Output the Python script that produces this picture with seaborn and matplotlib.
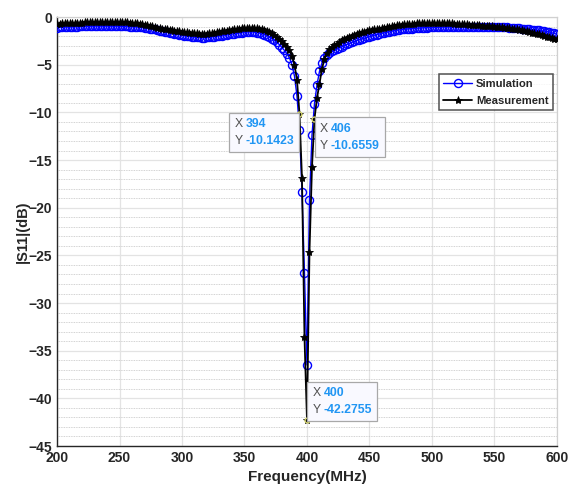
import numpy as np
import pandas as pd
import seaborn as sns
import matplotlib.pyplot as plt
from matplotlib.offsetbox import TextArea, HPacker, VPacker, AnnotationBbox
from matplotlib.ticker import MultipleLocator

# frequency axis (MHz), one sample every 2 MHz
freq = np.arange(200, 602, 2)

# simulated |S11| (dB)
sim = [
    -1.10, -1.08, -1.07, -1.05, -1.04, -1.02, -1.01, -1.00, -0.99, -0.98,
    -0.97, -0.96, -0.96, -0.95, -0.95, -0.94, -0.94, -0.94, -0.93, -0.93,
    -0.93, -0.93, -0.93, -0.94, -0.94, -0.95, -0.96, -0.97, -0.98, -0.99,
    -1.00, -1.02, -1.04, -1.06, -1.08, -1.10, -1.15, -1.20, -1.25, -1.30,
    -1.35, -1.41, -1.47, -1.53, -1.59, -1.65, -1.70, -1.75, -1.80, -1.85,
    -1.90, -1.94, -1.98, -2.02, -2.06, -2.10, -2.12, -2.14, -2.15, -2.15,
    -2.13, -2.10, -2.07, -2.04, -2.01, -1.98, -1.94, -1.90, -1.86, -1.82,
    -1.78, -1.74, -1.70, -1.66, -1.62, -1.58, -1.56, -1.55, -1.55, -1.58,
    -1.62, -1.68, -1.74, -1.85, -1.95, -2.10, -2.25, -2.45, -2.65, -2.90,
    -3.20, -3.50, -3.85, -4.30, -5.00, -6.20, -8.30, -11.80, -18.30, -26.90,
    -36.50, -19.20, -12.40, -9.10, -7.10, -5.70, -4.80, -4.25, -3.95, -3.75,
    -3.60, -3.48, -3.35, -3.22, -3.10, -2.98, -2.85, -2.75, -2.65, -2.55,
    -2.45, -2.37, -2.29, -2.21, -2.13, -2.05, -1.97, -1.90, -1.83, -1.76,
    -1.70, -1.64, -1.58, -1.52, -1.47, -1.42, -1.37, -1.33, -1.30, -1.27,
    -1.24, -1.22, -1.20, -1.18, -1.16, -1.14, -1.12, -1.11, -1.10, -1.09,
    -1.08, -1.07, -1.06, -1.05, -1.05, -1.04, -1.04, -1.03, -1.03, -1.02,
    -1.02, -1.02, -1.01, -1.01, -1.01, -1.00, -1.00, -1.00, -1.00, -1.00,
    -1.00, -1.00, -1.00, -1.01, -1.01, -1.02, -1.03, -1.04, -1.05, -1.06,
    -1.08, -1.10, -1.12, -1.14, -1.16, -1.18, -1.20, -1.22, -1.25, -1.28,
    -1.31, -1.34, -1.37, -1.40, -1.43, -1.47, -1.52, -1.58, -1.65, -1.72,
    -1.80,
]

# measured |S11| (dB)
meas = [
    -0.70, -0.68, -0.67, -0.65, -0.64, -0.62, -0.61, -0.60, -0.59, -0.58,
    -0.57, -0.56, -0.56, -0.55, -0.55, -0.54, -0.54, -0.53, -0.53, -0.52,
    -0.52, -0.52, -0.52, -0.52, -0.52, -0.52, -0.53, -0.54, -0.56, -0.58,
    -0.60, -0.63, -0.67, -0.71, -0.75, -0.78, -0.84, -0.90, -0.97, -1.04,
    -1.10, -1.15, -1.20, -1.25, -1.30, -1.35, -1.39, -1.43, -1.47, -1.51,
    -1.55, -1.58, -1.61, -1.64, -1.67, -1.70, -1.72, -1.74, -1.75, -1.75,
    -1.73, -1.70, -1.66, -1.62, -1.58, -1.55, -1.50, -1.46, -1.41, -1.37,
    -1.32, -1.28, -1.24, -1.20, -1.16, -1.12, -1.11, -1.10, -1.10, -1.12,
    -1.15, -1.20, -1.25, -1.35, -1.45, -1.55, -1.70, -1.85, -2.05, -2.25,
    -2.50, -2.80, -3.15, -3.50, -4.10, -5.00, -6.60, -10.1423, -16.90, -33.60,
    -42.2755, -24.60, -15.70, -10.6559, -8.50, -7.00, -5.40, -4.40, -3.80, -3.40,
    -3.15, -2.98, -2.80, -2.62, -2.45, -2.30, -2.15, -2.05, -1.95, -1.86,
    -1.78, -1.69, -1.60, -1.52, -1.46, -1.40, -1.35, -1.30, -1.25, -1.20,
    -1.15, -1.10, -1.05, -1.00, -0.96, -0.92, -0.88, -0.84, -0.80, -0.77,
    -0.75, -0.72, -0.70, -0.68, -0.67, -0.66, -0.65, -0.64, -0.63, -0.62,
    -0.62, -0.62, -0.62, -0.62, -0.63, -0.64, -0.65, -0.66, -0.67, -0.68,
    -0.70, -0.71, -0.73, -0.75, -0.77, -0.79, -0.81, -0.83, -0.85, -0.87,
    -0.89, -0.91, -0.93, -0.95, -0.98, -1.00, -1.03, -1.05, -1.08, -1.11,
    -1.15, -1.18, -1.22, -1.26, -1.30, -1.35, -1.40, -1.45, -1.50, -1.56,
    -1.62, -1.68, -1.75, -1.82, -1.90, -1.98, -2.05, -2.13, -2.20, -2.28,
    -2.35,
]

# data tips shown on the measured curve
tip_x = [394, 406, 400]
tip_y = [-10.1423, -10.6559, -42.2755]

df = pd.DataFrame({"freq": freq, "sim": sim, "meas": meas})

sns.set_theme(style="white")
plt.rcParams["font.family"] = ["Liberation Sans", "DejaVu Sans"]

fig = plt.figure(figsize=(5.73, 4.88), dpi=100)
ax = fig.add_axes([0.0995, 0.086, 0.8725, 0.879])

sns.lineplot(data=df, x="freq", y="sim", ax=ax, color="blue", linewidth=1.0,
             marker="o", markersize=5.8, markerfacecolor="none",
             markeredgecolor="blue", markeredgewidth=1.0,
             label="Simulation", zorder=3)
sns.lineplot(data=df, x="freq", y="meas", ax=ax, color="black", linewidth=1.3,
             marker="*", markersize=6, markerfacecolor="black",
             markeredgecolor="black", markeredgewidth=0.6,
             label="Measurement", zorder=4)

ax.set_xlim(200, 600)
ax.set_ylim(-45, 0)
ax.xaxis.set_major_locator(MultipleLocator(50))
ax.yaxis.set_major_locator(MultipleLocator(5))
ax.yaxis.set_minor_locator(MultipleLocator(1))

ax.grid(which="major", color="#e3e3e3", linewidth=0.9, linestyle="-")
ax.grid(which="minor", axis="y", color="#c4c4c4", linewidth=0.6, linestyle=(0, (1, 1)))
ax.set_axisbelow(True)

ax.tick_params(axis="both", which="major", direction="in", length=4, width=0.9,
               colors="#262626", labelsize=10)
ax.tick_params(axis="both", which="minor", length=0)
for lab in ax.get_xticklabels() + ax.get_yticklabels():
    lab.set_fontweight("bold")

for side in ["left", "bottom"]:
    ax.spines[side].set_color("#262626")
    ax.spines[side].set_linewidth(1.0)
for side in ["top", "right"]:
    ax.spines[side].set_color("#d0d0d0")
    ax.spines[side].set_linewidth(0.9)

ax.set_xlabel("Frequency(MHz)", fontsize=11, fontweight="bold", color="#262626")
ax.set_ylabel("|S11|(dB)", fontsize=10.5, fontweight="bold", color="#262626",
              labelpad=-1)

leg = ax.legend(loc="upper right", bbox_to_anchor=(0.992, 0.867), borderaxespad=0,
                fancybox=False, frameon=True, edgecolor="#262626", handlelength=2.6,
                handletextpad=0.3, borderpad=0.4, labelspacing=0.65,
                prop={"weight": "bold", "size": 8.1})
leg.get_frame().set_linewidth(1.1)

# data tip markers and boxes
ax.plot(tip_x, tip_y, linestyle="none", marker="o", markersize=3.5,
        markerfacecolor="black", markeredgecolor="#d8d870", zorder=6)

offsets = [(-4, -3), (4, -3), (4, 3)]
aligns = [(1, 1), (0, 1), (0, 0)]
for x, y, off, al in zip(tip_x, tip_y, offsets, aligns):
    xs = f"{x:g}"
    ys = f"{y:.4f}"
    row1 = HPacker(children=[TextArea("X", textprops=dict(color="#505050", size=8.8)),
                             TextArea(xs, textprops=dict(color="#2196f3", size=8.8,
                                                         weight="bold"))],
                   pad=0, sep=2)
    row2 = HPacker(children=[TextArea("Y", textprops=dict(color="#505050", size=8.8)),
                             TextArea(ys, textprops=dict(color="#2196f3", size=8.8,
                                                         weight="bold"))],
                   pad=0, sep=2)
    box = VPacker(children=[row1, row2], pad=0, sep=3.5, align="left")
    ab = AnnotationBbox(box, (x, y), xybox=off, xycoords="data",
                        boxcoords="offset points", box_alignment=al,
                        frameon=True, pad=0.35,
                        bboxprops=dict(boxstyle="square,pad=0.35", facecolor="#f9f9ff",
                                       edgecolor="#a8a8a8", linewidth=0.9),
                        zorder=7)
    ax.add_artist(ab)

fig.savefig("out.png", dpi=100)
